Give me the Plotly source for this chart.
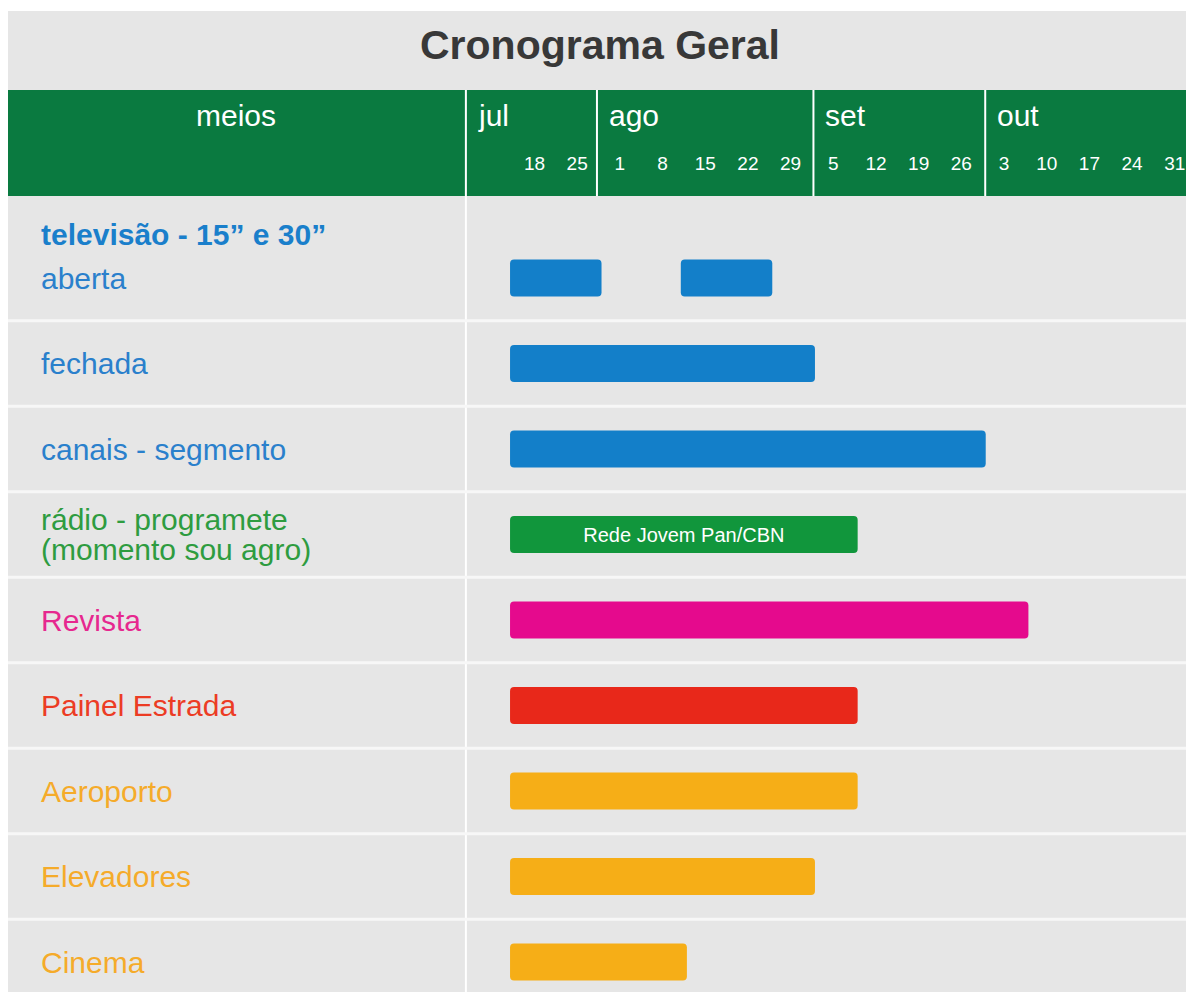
import pandas as pd
import plotly.graph_objects as go

# ---------------- data ----------------
ROWS = ["aberta", "fechada", "canais - segmento",
        "rádio - programete<br>(momento sou agro)", "Revista",
        "Painel Estrada", "Aeroporto", "Elevadores", "Cinema"]
GROUP_TITLE = "televisão - 15” e 30”"

SEG_ROW = ["aberta", "aberta", "fechada", "canais - segmento",
           "rádio - programete<br>(momento sou agro)", "Revista",
           "Painel Estrada", "Aeroporto", "Elevadores", "Cinema"]
SEG_START = ["2011-07-14", "2011-08-11", "2011-07-14", "2011-07-14", "2011-07-14",
             "2011-07-14", "2011-07-14", "2011-07-14", "2011-07-14", "2011-07-14"]
SEG_END = ["2011-07-29", "2011-08-26", "2011-09-02", "2011-09-30", "2011-09-09",
           "2011-10-07", "2011-09-09", "2011-09-09", "2011-09-02", "2011-08-12"]
SEG_TEXT = ["", "", "", "", "Rede Jovem Pan/CBN", "", "", "", "", ""]

MONTHS = ["jul", "ago", "set", "out"]
MONTH_BOUNDS = ["2011-07-28 06:00", "2011-09-01 18:00", "2011-09-29 22:00"]
WEEK_DATES = ["2011-07-18", "2011-07-25", "2011-08-01", "2011-08-08", "2011-08-15",
              "2011-08-22", "2011-08-29", "2011-09-05", "2011-09-12", "2011-09-19",
              "2011-09-26", "2011-10-03", "2011-10-10", "2011-10-17", "2011-10-24",
              "2011-10-31"]
WEEK_LABELS = ["18", "25", "1", "8", "15", "22", "29", "5", "12", "19", "26",
               "3", "10", "17", "24", "31"]

# ---------------- style ----------------
# the page body has an 8px margin; visible area is ~1186px wide
OFF = 8
REF_W = 1194 - OFF
W, H = 1186 - OFF, 1000 - 2 * OFF
BG = "#e6e6e6"
HEADER = "#0a7a40"
FONT = "Liberation Sans, Arial, Helvetica, sans-serif"
ROW_BAR_COLOR = {
    "aberta": "#137fc9", "fechada": "#137fc9", "canais - segmento": "#137fc9",
    "rádio - programete<br>(momento sou agro)": "#11963c", "Revista": "#e50a8d",
    "Painel Estrada": "#e8281a", "Aeroporto": "#f6ae17", "Elevadores": "#f6ae17",
    "Cinema": "#f6ae17",
}
ROW_TEXT_COLOR = {
    "aberta": "#2a80cc", "fechada": "#2a80cc", "canais - segmento": "#2a80cc",
    "rádio - programete<br>(momento sou agro)": "#2e9c40", "Revista": "#e6288f",
    "Painel Estrada": "#ec3c24", "Aeroporto": "#f5ab2a", "Elevadores": "#f5ab2a",
    "Cinema": "#f5ab2a",
}

def px_x(p):
    return (p - OFF) / REF_W

def px_y(p):
    return 1 - (p - OFF) / H

# row index <-> screen pixel: first row centre at 278px, 85.5px per row
ROW0_PX, ROW_STEP = 278, 85.5
PLOT_TOP, PLOT_BOTTOM = 197, OFF + H

starts = pd.to_datetime(SEG_START)
ends = pd.to_datetime(SEG_END)
durations = [(e - s).total_seconds() * 1000 for s, e in zip(starts, ends)]

fig = go.Figure()
fig.add_trace(go.Bar(
    y=SEG_ROW,
    x=durations,
    base=SEG_START,
    orientation="h",
    width=0.435,
    marker=dict(color=[ROW_BAR_COLOR[r] for r in SEG_ROW], line=dict(width=0),
                cornerradius=4),
    text=SEG_TEXT,
    textposition="inside",
    insidetextanchor="middle",
    textangle=0,
    constraintext="none",
    textfont=dict(color="white", size=20, family=FONT),
    hoverinfo="skip",
    showlegend=False,
))

x_range = ["2011-07-06 18:14", "2011-11-01 20:10"]
y_range = [(PLOT_BOTTOM - ROW0_PX) / ROW_STEP, (PLOT_TOP - ROW0_PX) / ROW_STEP]

shapes = [
    dict(type="rect", xref="paper", yref="paper", x0=0, x1=1, y0=0, y1=px_y(11),
         fillcolor=BG, line=dict(width=0), layer="below"),
    dict(type="rect", xref="paper", yref="paper", x0=0, x1=1, y0=px_y(196), y1=px_y(90),
         fillcolor=HEADER, line=dict(width=0), layer="below"),
    dict(type="line", xref="paper", yref="paper", x0=px_x(469), x1=px_x(469), y0=0,
         y1=px_y(90), line=dict(color="white", width=2), layer="below"),
]
for i in range(len(ROWS) - 1):
    shapes.append(dict(type="line", xref="paper", yref="y", x0=0, x1=1,
                       y0=i + 0.5, y1=i + 0.5, line=dict(color="#f7f7f7", width=3),
                       layer="below"))
for b in MONTH_BOUNDS:
    shapes.append(dict(type="line", xref="x", yref="paper", x0=b, x1=b,
                       y0=px_y(196), y1=px_y(90), line=dict(color="white", width=2),
                       layer="below"))

annotations = [
    dict(text="<b>Cronograma Geral</b>", xref="paper", yref="paper", x=px_x(604), y=px_y(45),
         showarrow=False, xanchor="center", yanchor="middle",
         font=dict(family="Liberation Sans Narrow, Arial Narrow, " + FONT, size=41,
                   color="#383838")),
    dict(text="meios", xref="paper", yref="paper", x=px_x(238), y=px_y(115),
         showarrow=False, xanchor="center", yanchor="middle",
         font=dict(family=FONT, size=30, color="white")),
    dict(text="<b>" + GROUP_TITLE + "</b>", xref="paper", yref="paper", x=px_x(39), y=px_y(234),
         showarrow=False, xanchor="left", yanchor="middle",
         font=dict(family=FONT, size=30, color="#1a7fcb")),
]
month_x = [("x domain", 0)] + [("x", b) for b in MONTH_BOUNDS]
for name, (xr, xv) in zip(MONTHS, month_x):
    annotations.append(dict(text=name, xref=xr, yref="paper", x=xv, y=px_y(115),
                            xshift=10, showarrow=False, xanchor="left", yanchor="middle",
                            font=dict(family=FONT, size=30, color="white")))
for r in ROWS:
    lines = r.split("<br>")
    n = len(lines)
    for k, line in enumerate(lines):
        annotations.append(dict(text=line, xref="paper", yref="y", x=px_x(39), y=r,
                                yshift=(n - 1) * 15 - k * 30,
                                showarrow=False, xanchor="left", yanchor="middle",
                                align="left",
                                font=dict(family=FONT, size=30, color=ROW_TEXT_COLOR[r])))

fig.update_layout(
    width=W, height=H,
    margin=dict(l=0, r=0, t=0, b=0),
    paper_bgcolor="white",
    plot_bgcolor="rgba(0,0,0,0)",
    barmode="overlay",
    shapes=shapes,
    annotations=annotations,
    font=dict(family=FONT),
    xaxis=dict(type="date", range=x_range, domain=[px_x(469), 1], side="top",
               tickmode="array", tickvals=WEEK_DATES, ticktext=WEEK_LABELS,
               tickfont=dict(family=FONT, size=19, color="white"),
               ticks="", ticklabelstandoff=22, showgrid=False, zeroline=False,
               showline=False, fixedrange=True),
    yaxis=dict(type="category", categoryorder="array", categoryarray=ROWS,
               range=y_range, domain=[0, px_y(PLOT_TOP)], showticklabels=False,
               showgrid=False, zeroline=False, showline=False, fixedrange=True),
)

fig.write_html("out.html")
